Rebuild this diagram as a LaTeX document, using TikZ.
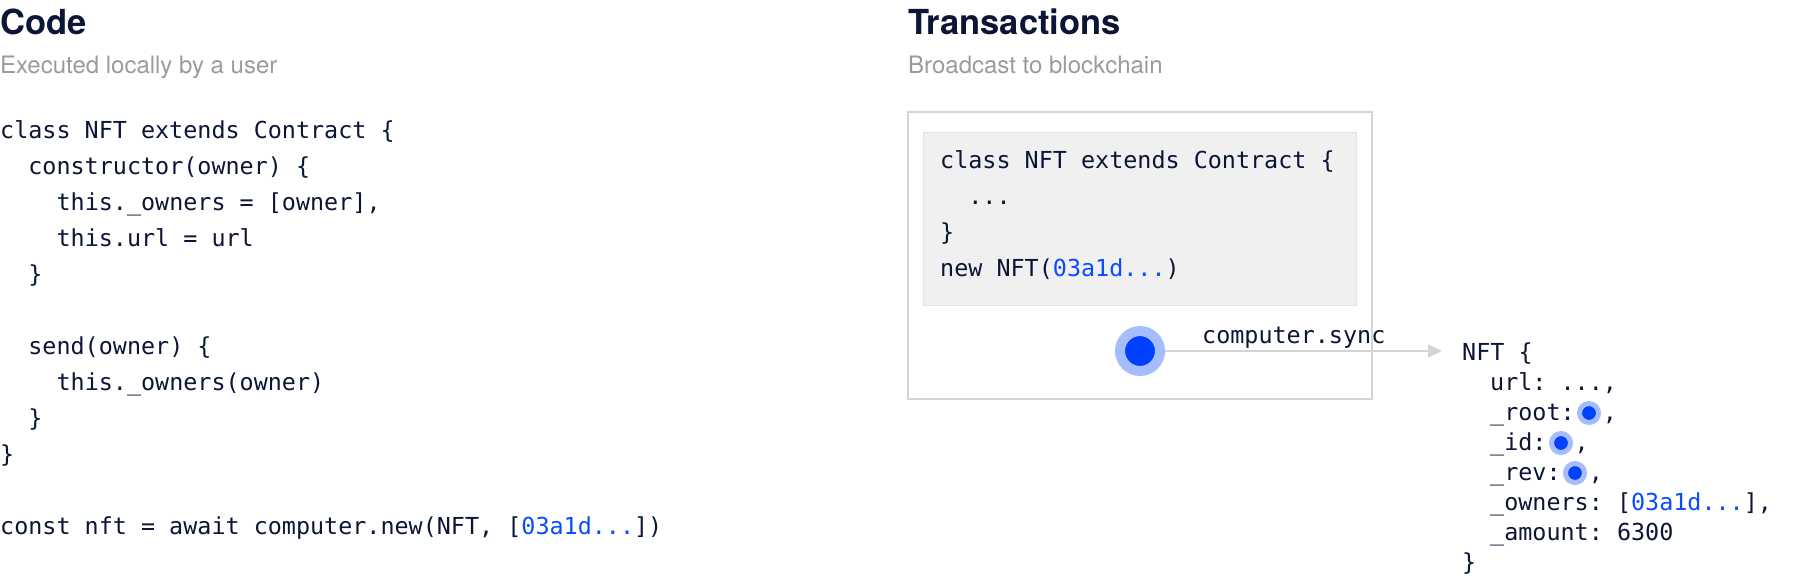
\documentclass[tikz,border=0pt]{standalone}
\usepackage{fontspec}
\setmainfont{TeX Gyre Heros}
\setmonofont{DejaVu Sans Mono}
\usetikzlibrary{arrows.meta,positioning}
\definecolor{navy}{HTML}{0B1536}
\definecolor{mutedgray}{HTML}{9B9B9B}
\definecolor{linkblue}{HTML}{0A4BFF}
\definecolor{dotblue}{HTML}{0040FF}
\definecolor{haloblue}{HTML}{A6BDFB}
\definecolor{framegray}{HTML}{D4D4D4}
\definecolor{codefill}{HTML}{F0F0F0}
\definecolor{codeedge}{HTML}{E3E3E3}
\newcommand{\hexid}{\textcolor{linkblue}{03a1d...}}

\begin{document}
\begin{tikzpicture}[
      x=1pt, y=-1pt,
      heading/.style={anchor=base west, inner sep=0, text=navy,
        font=\fontsize{34.5}{40}\selectfont\bfseries},
      subheading/.style={anchor=base west, inner sep=0, text=mutedgray,
        font=\fontsize{24}{28}\selectfont},
      codeline/.style={anchor=base west, inner sep=0, text=navy,
        font=\ttfamily\fontsize{23.4}{30}\selectfont},
      txframe/.style={draw=framegray, line width=2pt, anchor=north west, inner sep=0},
      codebg/.style={fill=codefill, draw=codeedge, line width=1pt, anchor=north west, inner sep=0},
      bigdot/.style={circle, fill=dotblue, draw=haloblue, line width=10pt,
        minimum size=40pt, inner sep=0},
      smalldot/.style={circle, fill=dotblue, draw=haloblue, line width=5pt,
        minimum size=19pt, inner sep=0},
      arrow/.style={-{Triangle[length=14pt, width=13pt]}, line width=1.5pt, draw=framegray}
    ]
    \useasboundingbox (0,0) rectangle (1815,576);

    % left column: local code
    \node[heading] (codetitle) at (0,34) {Code};
    \node[subheading] (codesub) at (0,73) {Executed locally by a user};
    \node[codeline] (c1) at (0,138) {class NFT extends Contract \{};
    \node[codeline] (c2) at (28.2,174) {constructor(owner) \{};
    \node[codeline] (c3) at (56.4,210) {this.\_owners = [owner],};
    \node[codeline] (c4) at (56.4,246) {this.url = url};
    \node[codeline] (c5) at (28.2,282) {\}};
    \node[codeline] (c6) at (28.2,354) {send(owner) \{};
    \node[codeline] (c7) at (56.4,390) {this.\_owners(owner)};
    \node[codeline] (c8) at (28.2,426) {\}};
    \node[codeline] (c9) at (0,462) {\}};
    \node[codeline] (c10) at (0,534) {const nft = await computer.new(NFT, [\hexid])};

    % right column: transaction
    \node[heading] (txtitle) at (908,34) {Transactions};
    \node[subheading] (txsub) at (908,73) {Broadcast to blockchain};
    \node[txframe, minimum width=464pt, minimum height=287pt] (txbox) at (907,111) {};
    \node[codebg, minimum width=433pt, minimum height=173pt] (txcode) at (923,132) {};
    \node[codeline] (t1) at (940,168) {class NFT extends Contract \{};
    \node[codeline] (t2) at (968.2,204) {...};
    \node[codeline] (t3) at (940,240) {\}};
    \node[codeline] (t4) at (940,276) {new NFT(\hexid)};

    % sync arrow
    \node[bigdot] (txdot) at (1140,351) {};
    \coordinate (synctip) at (1442,351);
    \draw[arrow] (txdot) -- (synctip);
    \node[codeline] (synclabel) at (1202,343) {computer.sync};

    % resulting object
    \node[codeline] (nfthead) at (1462,360) {NFT \{};
    \node[codeline] (nfturl) at (1490,390) {url: ...,};
    \node[codeline] (nftroot) at (1490,420) {\_root:\phantom{00},};
    \node[codeline] (nftid) at (1490,450) {\_id:\phantom{00},};
    \node[codeline] (nftrev) at (1490,480) {\_rev:\phantom{00},};
    \node[codeline] (nftowners) at (1490,510) {\_owners: [\hexid],};
    \node[codeline] (nftamount) at (1490,540) {\_amount: 6300};
    \node[codeline] (nftend) at (1462,570) {\}};
    \node[smalldot] (rootdot) at (1589,413) {};
    \node[smalldot] (iddot) at (1561,443) {};
    \node[smalldot] (revdot) at (1575,473) {};
  \end{tikzpicture}
\end{document}
